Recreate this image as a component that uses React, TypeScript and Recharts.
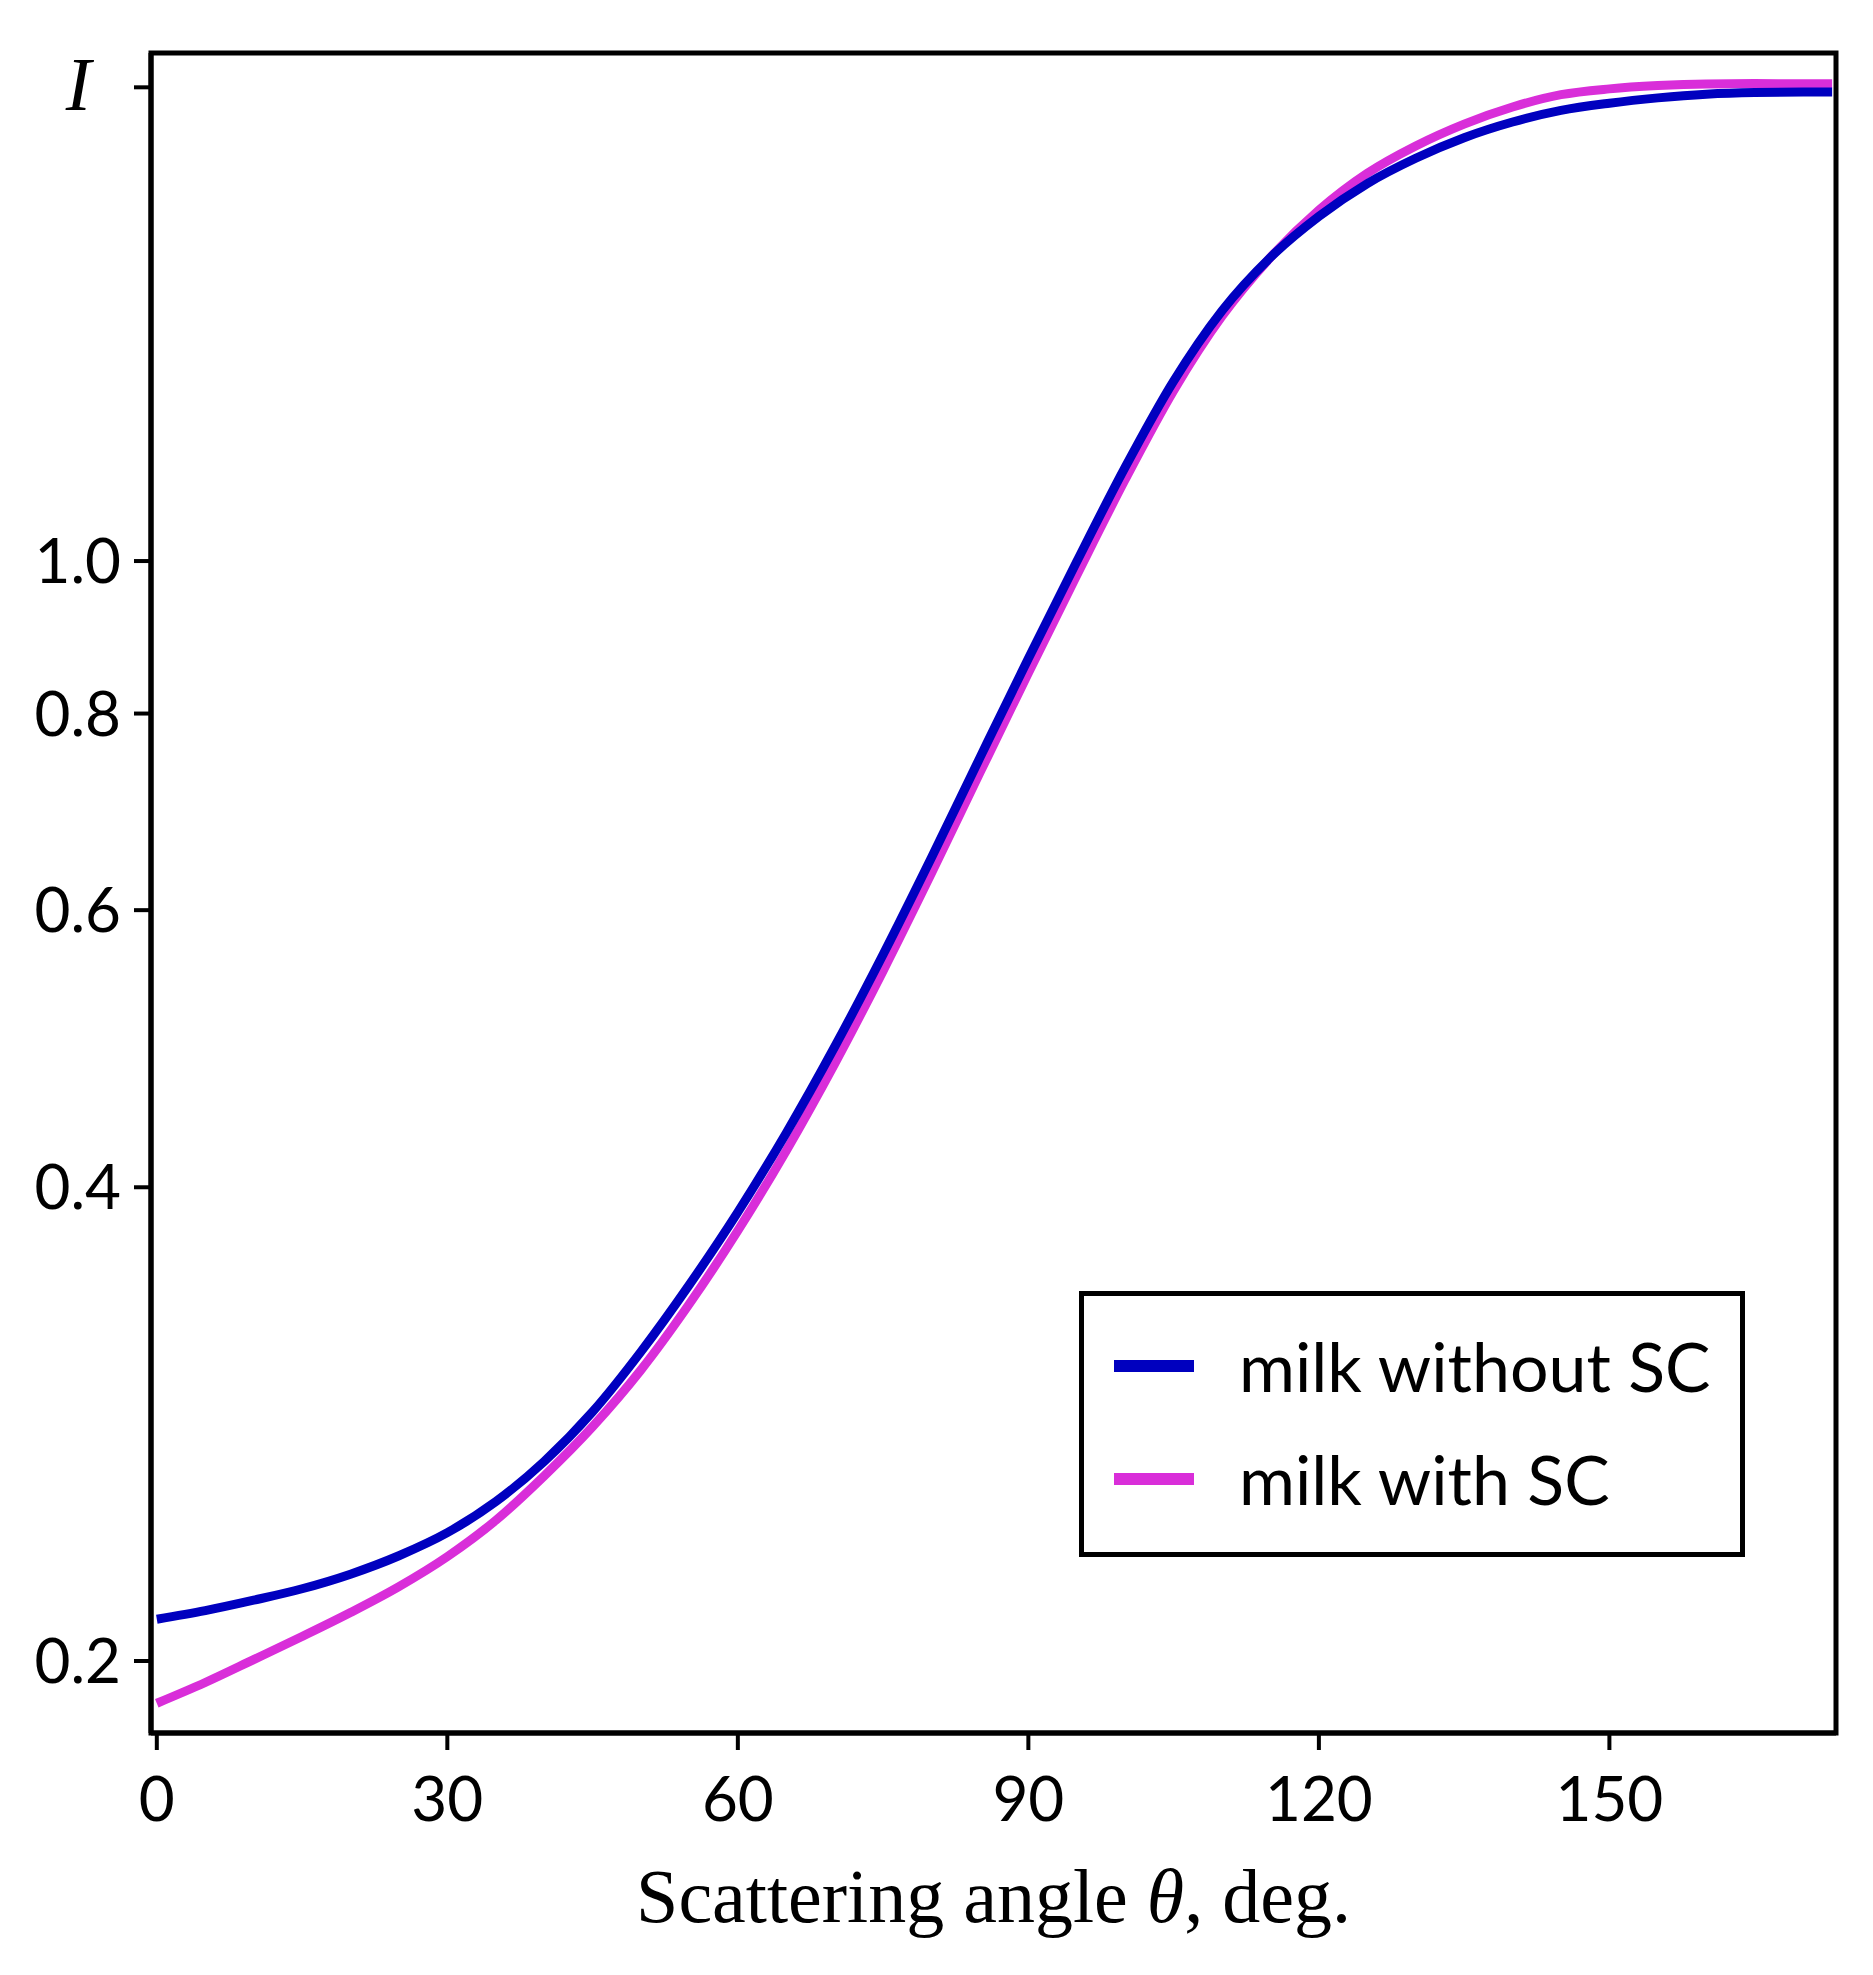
import React from 'react';
import { LineChart, Line, XAxis, YAxis, ReferenceArea, Legend } from 'recharts';

// scattering angle, deg
const theta = [
  0, 5, 10, 15, 20, 25, 30, 35, 40, 45, 50, 55, 60, 65, 70, 75, 80, 85, 90,
  95, 100, 105, 110, 115, 120, 125, 130, 135, 140, 145, 150, 155, 160, 165, 170, 173,
];
const milkWithoutSC = [
  0.2126, 0.2153, 0.2186, 0.2223, 0.2271, 0.2333, 0.2413, 0.2525, 0.2678, 0.288, 0.3145,
  0.3469, 0.3857, 0.4331, 0.4913, 0.5623, 0.6481, 0.75, 0.867, 0.9993, 1.1472, 1.3012,
  1.4424, 1.5594, 1.6558, 1.7373, 1.8028, 1.8578, 1.901, 1.9336, 1.954, 1.9693, 1.9801,
  1.985, 1.9862, 1.9862,
];
const milkWithSC = [
  0.188, 0.1938, 0.2004, 0.2073, 0.2147, 0.223, 0.233, 0.2457, 0.2622, 0.2818, 0.3062,
  0.3373, 0.3754, 0.422, 0.4792, 0.549, 0.6334, 0.7337, 0.849, 0.9795, 1.1267, 1.2831,
  1.4309, 1.5594, 1.6709, 1.7636, 1.8356, 1.8953, 1.9433, 1.9786, 1.9955, 2.0051, 2.0101,
  2.0111, 2.0103, 2.0103,
];
const xTicks = [0, 30, 60, 90, 120, 150];
const yTicks = [0.2, 0.4, 0.6, 0.8, 1.0, 2.0];

const seriesInfo = [
  { key: 'without', label: 'milk without SC', color: '#0000BF' },
  { key: 'with', label: 'milk with SC', color: '#D92ED9' },
];

const data = theta.map((t, i) => ({ theta: t, without: milkWithoutSC[i], with: milkWithSC[i] }));

const SANS = 'Lato, "Open Sans", sans-serif';
const SERIF = '"Liberation Serif", "DejaVu Serif", serif';
const X_MIN = -0.6;
const X_MAX = 173.4;
const Y_MIN = 0.18;
const Y_MAX = 2.103;

function YTick(props: any) {
  const { x, y, payload } = props;
  if (payload.value === 2) {
    return (
      <text x={x - 30} y={y} dy="0.3em" textAnchor="end" fontFamily={SERIF} fontStyle="italic" fontSize={76} fill="#000">
        I
      </text>
    );
  }
  return (
    <text x={x} y={y} dy="0.355em" textAnchor="end" fontFamily={SANS} fontSize={62} fill="#000">
      {Number(payload.value).toFixed(1)}
    </text>
  );
}

function XLabel(props: any) {
  const vb = props.viewBox || { x: 151, y: 1733, width: 1685 };
  return (
    <text x={vb.x + vb.width / 2} y={vb.y + 189} textAnchor="middle" fontFamily={SERIF} fontSize={76} fill="#000">
      Scattering angle <tspan fontStyle="italic">θ</tspan>, deg.
    </text>
  );
}

function LegendBox() {
  return (
    <div
      style={{
        width: 666,
        height: 266,
        boxSizing: 'border-box',
        border: '5px solid #000',
        background: '#fff',
        position: 'relative',
        fontFamily: SANS,
        fontSize: 68,
        color: '#000',
      }}
    >
      {seriesInfo.map((s, i) => (
        <div key={s.key} style={{ position: 'absolute', left: 30, top: 28 + i * 113, height: 84, display: 'flex', alignItems: 'center' }}>
          <div style={{ width: 80, height: 12, background: s.color }} />
          <span style={{ marginLeft: 45, lineHeight: '84px', whiteSpace: 'nowrap' }}>{s.label}</span>
        </div>
      ))}
    </div>
  );
}

export default function App() {
  return (
    <div style={{ position: 'absolute', left: 0, top: 0, width: 1873, height: 1975, background: '#fff' }}>
      <LineChart width={1873} height={1975} data={data} margin={{ top: 53, right: 37, bottom: 0, left: 0 }}>
        <XAxis
          dataKey="theta"
          type="number"
          domain={[X_MIN, X_MAX]}
          ticks={xTicks}
          allowDataOverflow
          height={242}
          tickSize={17}
          tickMargin={27}
          axisLine={{ stroke: '#000', strokeWidth: 5 }}
          tickLine={{ stroke: '#000', strokeWidth: 4 }}
          tick={{ fontFamily: SANS, fontSize: 62, fill: '#000' }}
          label={<XLabel />}
        />
        <YAxis
          type="number"
          scale="log"
          domain={[Y_MIN, Y_MAX]}
          ticks={yTicks}
          allowDataOverflow
          width={151}
          tickSize={17}
          tickMargin={13}
          axisLine={{ stroke: '#000', strokeWidth: 5 }}
          tickLine={{ stroke: '#000', strokeWidth: 4 }}
          tick={<YTick />}
        />
        <ReferenceArea x1={X_MIN} x2={X_MAX} y1={Y_MIN} y2={Y_MAX} fill="none" stroke="#000" strokeWidth={5} ifOverflow="visible" />
        <Line dataKey="with" type="monotone" stroke={seriesInfo[1].color} strokeWidth={9} dot={false} isAnimationActive={false} />
        <Line dataKey="without" type="monotone" stroke={seriesInfo[0].color} strokeWidth={9} dot={false} isAnimationActive={false} />
        <Legend
          layout="horizontal"
          verticalAlign="middle"
          align="center"
          content={<LegendBox />}
          wrapperStyle={{ position: 'absolute', left: 1079, top: 1291, width: 666, height: 266 }}
        />
      </LineChart>
    </div>
  );
}
